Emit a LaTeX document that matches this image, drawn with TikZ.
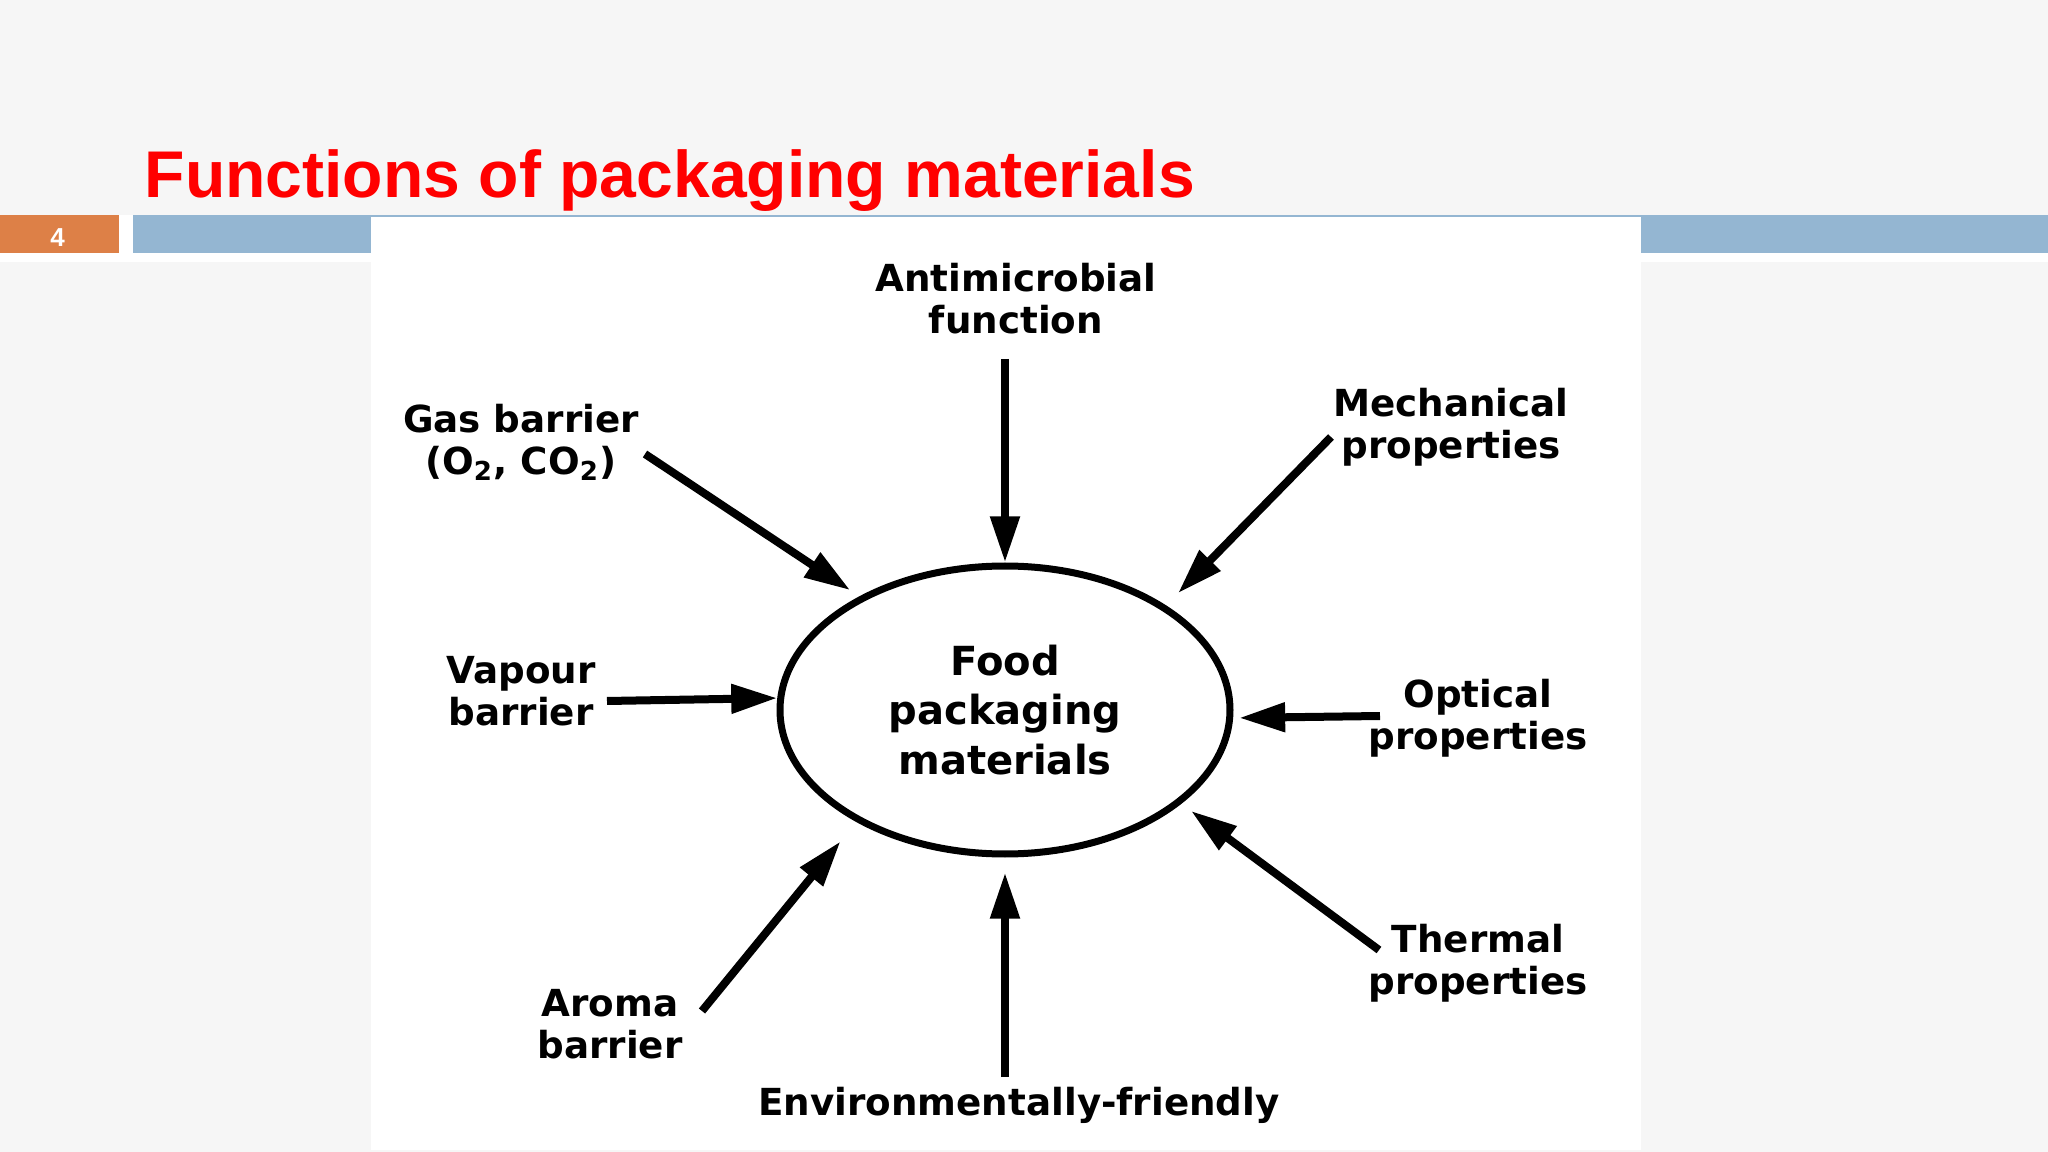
\documentclass[tikz,border=0pt]{standalone}
\usepackage{fontspec}
\setmainfont{DejaVu Sans}
\newfontfamily\titlefont{Liberation Sans}
\usetikzlibrary{arrows.meta,shapes.geometric}

\definecolor{slidegray}{RGB}{246,246,246}
\definecolor{barblue}{RGB}{148,182,210}
\definecolor{barorange}{RGB}{221,128,71}
\definecolor{titlered}{RGB}{255,0,0}

\begin{document}
\begin{tikzpicture}[
    lbl/.style={align=center, font=\fontsize{10.6}{12}\selectfont\bfseries, inner sep=0pt},
    arr/.style={line width=0.08cm, -{Triangle[length=0.46cm, width=0.28cm]}},
    foodbox/.style={draw, ellipse, line width=0.07cm, minimum width=4.50cm, minimum height=2.88cm,
        inner sep=0pt, align=center, font=\fontsize{11.4}{14.2}\selectfont\bfseries}
  ]
    \useasboundingbox (0,0) rectangle (20.48,-11.52);

    % slide background and header bars
    \fill[slidegray] (0,0) rectangle (20.48,-11.52);
    \fill[white] (0,-2.15) rectangle (20.48,-2.62);
    \fill[barorange] (0,-2.15) rectangle (1.19,-2.53);
    \fill[barblue] (1.33,-2.15) rectangle (20.48,-2.53);
    \fill[white] (3.71,-2.17) rectangle (16.41,-11.50);

    \node[anchor=base, inner sep=0pt, text=white, font=\titlefont\fontsize{7.4}{8}\selectfont\bfseries]
        (num) at (0.575,-2.47) {4};
    \node[anchor=base west, inner sep=0pt, text=titlered,
        font=\titlefont\fontsize{18.8}{22}\selectfont\bfseries] (title) at (1.44,-1.98)
        {Functions of packaging materials};

    % centre
    \node[foodbox] (food) at (10.05,-7.10) {Food\\packaging\\materials};

    % labels
    \node[lbl] (antilbl) at (10.16,-2.99) {Antimicrobial\\function};
    \node[lbl] (gaslbl) at (5.21,-4.42) {Gas barrier\\(O\textsubscript{2}, CO\textsubscript{2})};
    \node[lbl] (mechlbl) at (14.51,-4.27) {Mechanical\\properties};
    \node[lbl] (vaplbl) at (5.21,-6.91) {Vapour\\barrier};
    \node[lbl] (optlbl) at (14.78,-7.18) {Optical\\properties};
    \node[lbl] (thermlbl) at (14.78,-9.63) {Thermal\\properties};
    \node[lbl] (aromalbl) at (6.10,-10.24) {Aroma\\barrier};
    \node[lbl] (envlbl) at (10.19,-11.05) {Environmentally-friendly};

    % arrow tails
    \coordinate (anti) at (10.05,-3.59);
    \coordinate (gas) at (6.45,-4.54);
    \coordinate (mech) at (13.31,-4.37);
    \coordinate (vap) at (6.07,-7.01);
    \coordinate (opt) at (13.80,-7.16);
    \coordinate (therm) at (13.79,-9.50);
    \coordinate (aroma) at (7.02,-10.11);
    \coordinate (env) at (10.05,-10.77);

    \foreach \src/\ang/\gap in {anti/90/0, gas/142.1/0.11, mech/33.6/0.17, vap/177.7/0,
        opt/358.5/0.06, therm/332.2/0.12, aroma/217.85/0.25, env/270/0.15} {
        \draw[arr, shorten >=\gap cm] (\src) -- (food.\ang);
    }
\end{tikzpicture}
\end{document}
